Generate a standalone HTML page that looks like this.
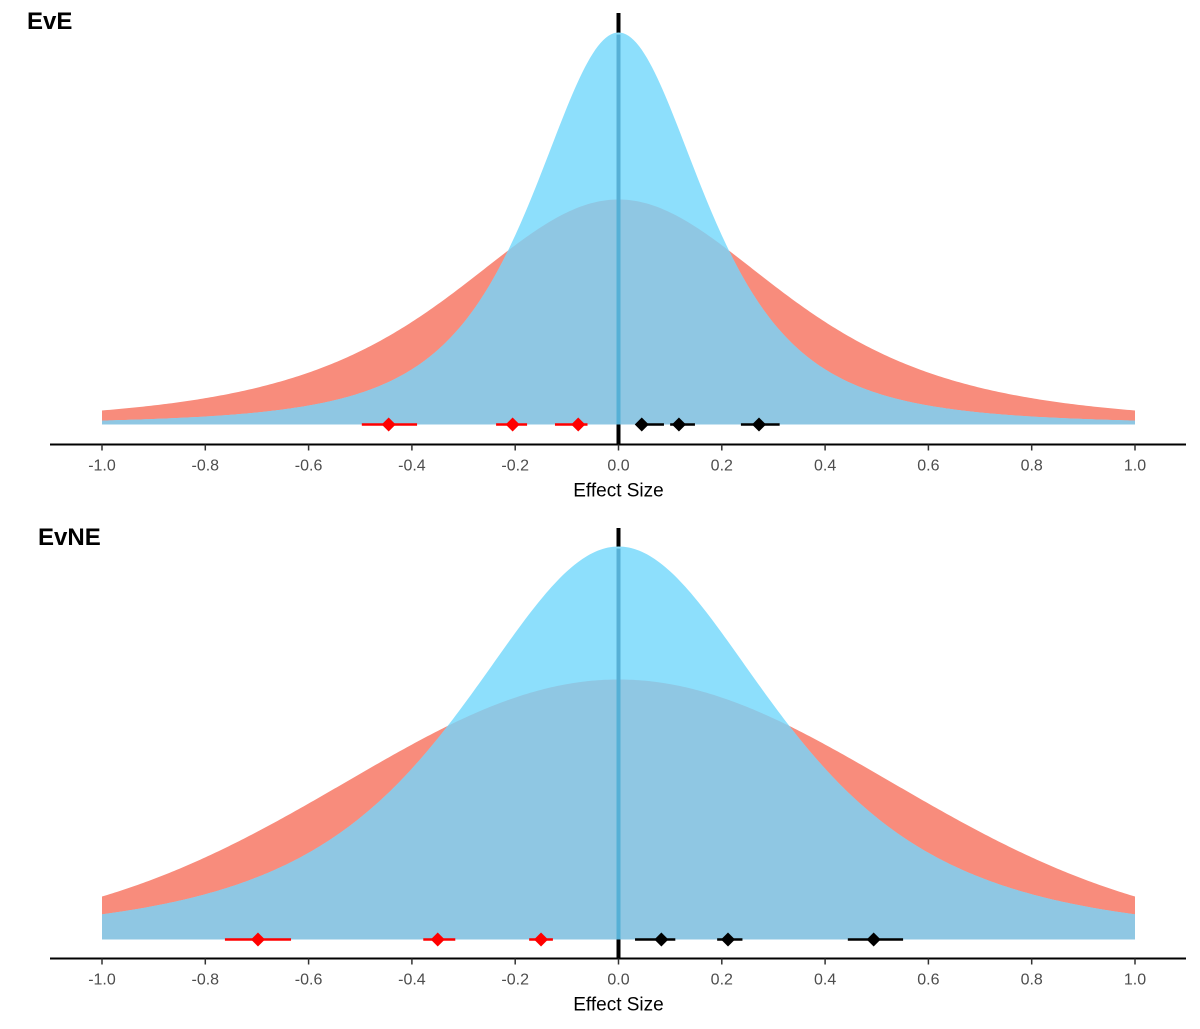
<!DOCTYPE html>
<html><head><meta charset="utf-8"><style>
body{margin:0;background:#fff;}
svg{display:block;font-family:"Liberation Sans",sans-serif;}
</style></head><body>
<svg id="s" width="1200" height="1029" viewBox="0 0 1200 1029"></svg>
<script>
const X0=618.5,SC=516.5;
function px(x){return X0+SC*x;}
function t(nu,s){return x=>Math.pow(1+x*x/(nu*s*s),-(nu+1)/2);}
function nrm(s){return x=>Math.exp(-x*x/(2*s*s));}
function path(f,base,h){let d=`M${px(-1)},${base}`;for(let i=0;i<=400;i++){const x=-1+i/200;d+=`L${px(x).toFixed(2)},${(base-h*f(x)).toFixed(2)}`;}return d+`L${px(1)},${base}Z`;}
let out='';
function panel(base,axisY,red,redH,blue,blueH,title,tx,ty,lineTop,pts){
 const mn=x=>Math.min(red(x)*redH,blue(x)*blueH);
 out+=`<line x1="${X0}" y1="${lineTop}" x2="${X0}" y2="${axisY}" stroke="#000" stroke-width="4"/>`;
 out+=`<path d="${path(red,base,redH)}" fill="#f88c7c"/>`;
 out+=`<path d="${path(blue,base,blueH)}" fill="#8ddffc"/>`;
 out+=`<path d="${path(x=>mn(x),base,1)}" fill="#8fc7e3"/>`;
 const top=base-blueH;
 out+=`<line x1="${X0}" y1="${top+2}" x2="${X0}" y2="${base}" stroke="#56b0d6" stroke-width="4"/>`;
 for(const p of pts){const c=p[3];out+=`<line x1="${px(p[1])}" y1="${base}" x2="${px(p[2])}" y2="${base}" stroke="${c}" stroke-width="2.5"/>`;
  const cx=px(p[0]);out+=`<path d="M${cx-7},${base}L${cx},${base-7}L${cx+7},${base}L${cx},${base+7}Z" fill="${c}"/>`;}
 out+=`<line x1="50" y1="${axisY}" x2="1186" y2="${axisY}" stroke="#000" stroke-width="2"/>`;
 for(let i=0;i<=10;i++){const v=-1+i*0.2;const x=px(v);out+=`<line x1="${x}" y1="${axisY}" x2="${x}" y2="${axisY+6}" stroke="#333" stroke-width="1.5"/>`;
  out+=`<text x="${x}" y="${axisY+26}" font-size="16" fill="#4d4d4d" text-anchor="middle">${v.toFixed(1).replace('-0.0','0.0')}</text>`;}
 out+=`<text x="${X0}" y="${axisY+52}" font-size="19" fill="#000" text-anchor="middle">Effect Size</text>`;
 out+=`<text x="${tx}" y="${ty}" font-size="24" font-weight="bold" fill="#000">${title}</text>`;
}
const R='#ff0000',B='#000';
panel(424.5,444.5,t(3,0.333),225,t(2.5,0.176),392,'EvE',27,29,13,[
[-0.445,-0.497,-0.39,R],[-0.205,-0.237,-0.177,R],[-0.078,-0.123,-0.06,R],
[0.045,0.035,0.088,B],[0.117,0.1,0.148,B],[0.272,0.237,0.312,B]]);
panel(939.5,958.5,nrm(0.527),260,t(2.5,0.324),393,'EvNE',38,545,528,[
[-0.698,-0.762,-0.634,R],[-0.35,-0.378,-0.316,R],[-0.15,-0.173,-0.127,R],
[0.083,0.032,0.11,B],[0.212,0.191,0.24,B],[0.494,0.444,0.551,B]]);
document.getElementById('s').innerHTML=out;
</script>
</body></html>
